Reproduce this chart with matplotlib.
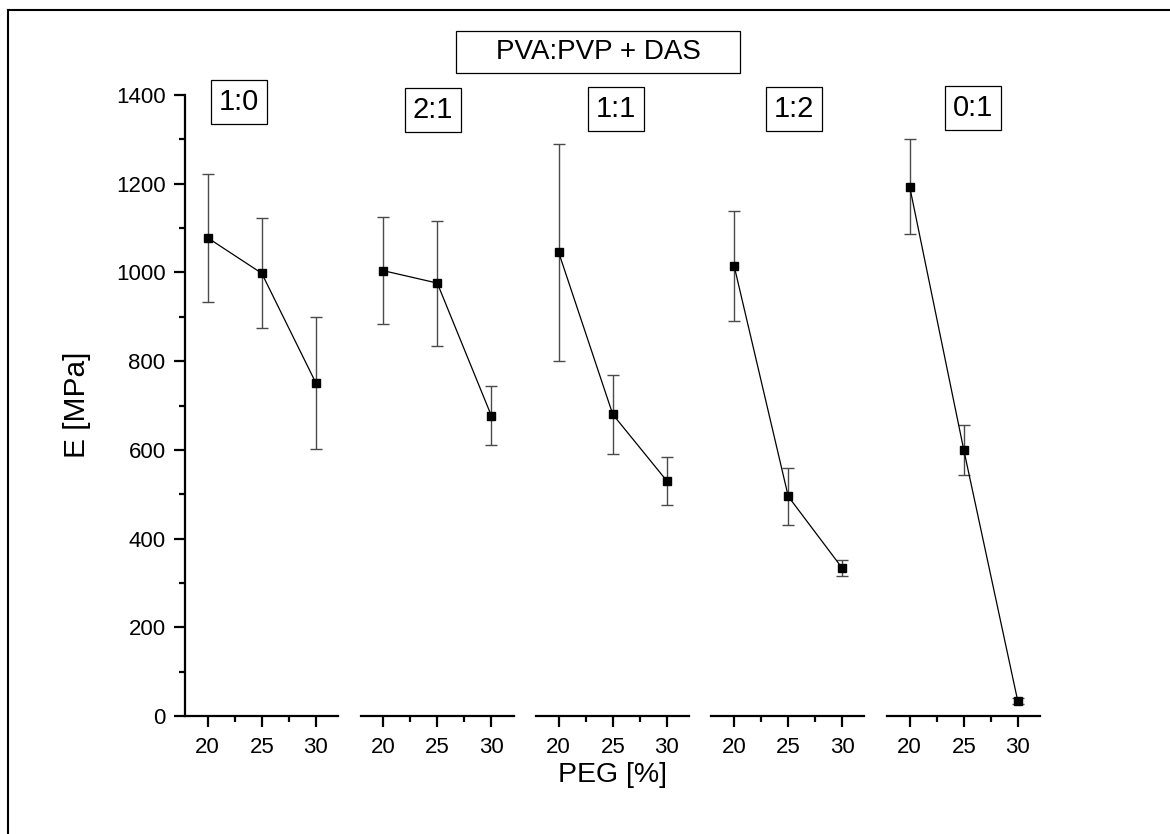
import numpy as np
import matplotlib
matplotlib.use("Agg")
import matplotlib.pyplot as plt
from matplotlib.lines import Line2D
from matplotlib.ticker import MultipleLocator, FixedLocator

plt.rcParams['font.family'] = ['Liberation Sans', 'DejaVu Sans']

# PEG content and Young's modulus (mean, std) for each PVA:PVP ratio
peg = [20, 25, 30]
ratios = ['1:0', '2:1', '1:1', '1:2', '0:1']
modulus_1_0 = [1078, 998, 751]
modulus_2_1 = [1004, 976, 677]
modulus_1_1 = [1045, 680, 530]
modulus_1_2 = [1014, 495, 333]
modulus_0_1 = [1193, 600, 33]
err_1_0 = [145, 124, 148]
err_2_1 = [121, 141, 66]
err_1_1 = [245, 89, 55]
err_1_2 = [124, 65, 18]
err_0_1 = [107, 57, 7]

modulus = [modulus_1_0, modulus_2_1, modulus_1_1, modulus_1_2, modulus_0_1]
errors = [err_1_0, err_2_1, err_1_1, err_1_2, err_0_1]

W, H = 1170, 834
fig = plt.figure(figsize=(W / 100, H / 100), dpi=100)

# panel geometry in pixels
x0, step, pw = 185, 175.5, 153
y_bot, y_top = 716, 95

axes = []
for i, (vals, errs) in enumerate(zip(modulus, errors)):
    left = x0 + step * i
    ax = fig.add_axes([left / W, (H - y_bot) / H, pw / W, (y_bot - y_top) / H])
    ax.errorbar(peg, vals, yerr=errs, fmt='-s', color='black', lw=0.9,
                ms=5.5, ecolor='#4a4a4a', elinewidth=1.0, capsize=4.3,
                capthick=1.0)
    ax.set_xlim(17.9, 32.05)
    ax.set_ylim(0, 1400)
    for s in ['top', 'right']:
        ax.spines[s].set_visible(False)
    ax.spines['bottom'].set_linewidth(1.6)
    ax.spines['left'].set_linewidth(1.6)
    ax.xaxis.set_major_locator(FixedLocator(peg))
    ax.xaxis.set_minor_locator(FixedLocator([22.5, 27.5]))
    ax.tick_params(axis='both', which='major', direction='out', length=8,
                   width=1.6, labelsize=16, pad=6)
    ax.tick_params(axis='x', which='major', pad=7)
    ax.tick_params(axis='both', which='minor', direction='out', length=4,
                   width=1.6)
    if i == 0:
        ax.yaxis.set_major_locator(MultipleLocator(200))
        ax.yaxis.set_minor_locator(MultipleLocator(100))
    else:
        ax.spines['left'].set_visible(False)
        ax.set_yticks([])
    axes.append(ax)

# ratio labels above each panel
label_pos = [(239, 102), (433, 110), (616, 109), (794, 109), (973, 108)]
box = dict(boxstyle='square,pad=0.27', fc='white', ec='black', lw=0.9)
for (px, py), r in zip(label_pos, ratios):
    fig.text(px / W, 1 - py / H, r, ha='center', va='center',
             fontsize=21, bbox=box)

title_box = dict(boxstyle='square,pad=0.3', fc='white', ec='black', lw=0.9)
fig.text(598 / W, 1 - 52 / H, '    PVA:PVP + DAS    ', ha='center', va='center',
         fontsize=20, bbox=title_box)

fig.text(613 / W, 1 - 775 / H, 'PEG [%]', ha='center', va='center', fontsize=20.5)
fig.text(77 / W, 1 - 405 / H, 'E [MPa]', ha='center', va='center',
         fontsize=21.5, rotation=90)

# frame lines along the left and top edge
fig.add_artist(Line2D([8 / W, 8 / W], [0, 1 - 10 / H], color='black', lw=1.5,
                      transform=fig.transFigure))
fig.add_artist(Line2D([8 / W, 1], [1 - 10 / H, 1 - 10 / H], color='black', lw=1.5,
                      transform=fig.transFigure))

fig.savefig('out.png', dpi=100)
